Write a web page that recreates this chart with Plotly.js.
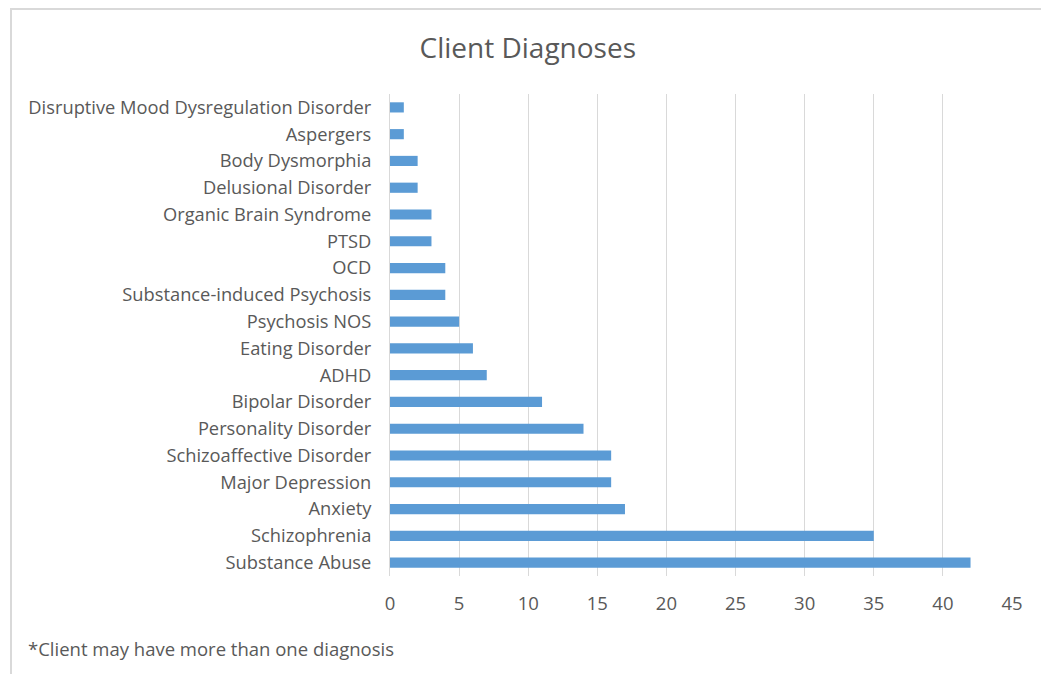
<!DOCTYPE html>
<html>
<head>
<meta charset="utf-8">
<script src="https://cdn.plot.ly/plotly-3.0.1.min.js"></script>
<style>
  html, body { margin:0; padding:0; background:#ffffff; }
  #wrap { position:relative; width:1041px; height:674px; overflow:hidden; }
  #frame { position:absolute; left:10px; top:8px; width:1100px; height:700px;
           border-left:2px solid #d9d9d9; border-top:2px solid #d9d9d9; }
  #chart { position:absolute; left:0; top:0; width:1041px; height:674px; }
</style>
</head>
<body>
<div id="wrap">
  <div id="frame"></div>
  <div id="chart"></div>
</div>
<script>
const categories = [
  "Substance Abuse",
  "Schizophrenia",
  "Anxiety",
  "Major Depression",
  "Schizoaffective Disorder",
  "Personality Disorder",
  "Bipolar Disorder",
  "ADHD",
  "Eating Disorder",
  "Psychosis NOS",
  "Substance-induced Psychosis",
  "OCD",
  "PTSD",
  "Organic Brain Syndrome",
  "Delusional Disorder",
  "Body Dysmorphia",
  "Aspergers",
  "Disruptive Mood Dysregulation Disorder"
];
const counts = [42, 35, 17, 16, 16, 14, 11, 7, 6, 5, 4, 4, 3, 3, 2, 2, 1, 1];
const xTicks = [0, 5, 10, 15, 20, 25, 30, 35, 40, 45];
const titleText = "Client Diagnoses";
const footnote = "*Client may have more than one diagnosis";

const font = "'Open Sans', Lato, 'Liberation Sans', sans-serif";
const gray = "#595959";

const trace = {
  type: "bar",
  orientation: "h",
  y: categories,
  x: counts,
  width: 0.38,
  marker: { color: "#5b9bd5", line: { width: 0 } },
  hoverinfo: "x+y"
};

const layout = {
  width: 1041,
  height: 674,
  paper_bgcolor: "rgba(0,0,0,0)",
  plot_bgcolor: "rgba(0,0,0,0)",
  margin: { l: 390, r: 29, t: 94, b: 98 },
  showlegend: false,
  title: {
    text: titleText,
    font: { family: font, size: 28, color: gray },
    xref: "container", x: 0.507, xanchor: "center",
    yref: "container", y: 0.929, yanchor: "middle"
  },
  xaxis: {
    range: [0, 45],
    tickvals: xTicks,
    ticktext: xTicks.map(String),
    showgrid: true,
    gridcolor: "#d9d9d9",
    gridwidth: 1,
    zeroline: false,
    showline: false,
    ticks: "",
    ticklabelstandoff: 14,
    tickfont: { family: font, size: 18.5, color: gray },
    fixedrange: true
  },
  yaxis: {
    type: "category",
    categoryorder: "array",
    categoryarray: categories,
    range: [-0.5, categories.length - 0.5],
    showgrid: false,
    zeroline: false,
    showline: true,
    linecolor: "#d9d9d9",
    linewidth: 1,
    ticks: "",
    ticklabelstandoff: 14,
    tickfont: { family: font, size: 18.3, color: gray },
    fixedrange: true
  },
  bargap: 0.62,
  annotations: [{
    text: footnote,
    xref: "paper", yref: "paper",
    x: (26 - 390) / 622, y: (576 - 648) / 482,
    xanchor: "left", yanchor: "middle",
    showarrow: false,
    font: { family: font, size: 18.5, color: gray }
  }]
};

Plotly.newPlot("chart", [trace], layout, { displayModeBar: false, staticPlot: true });
</script>
</body>
</html>
